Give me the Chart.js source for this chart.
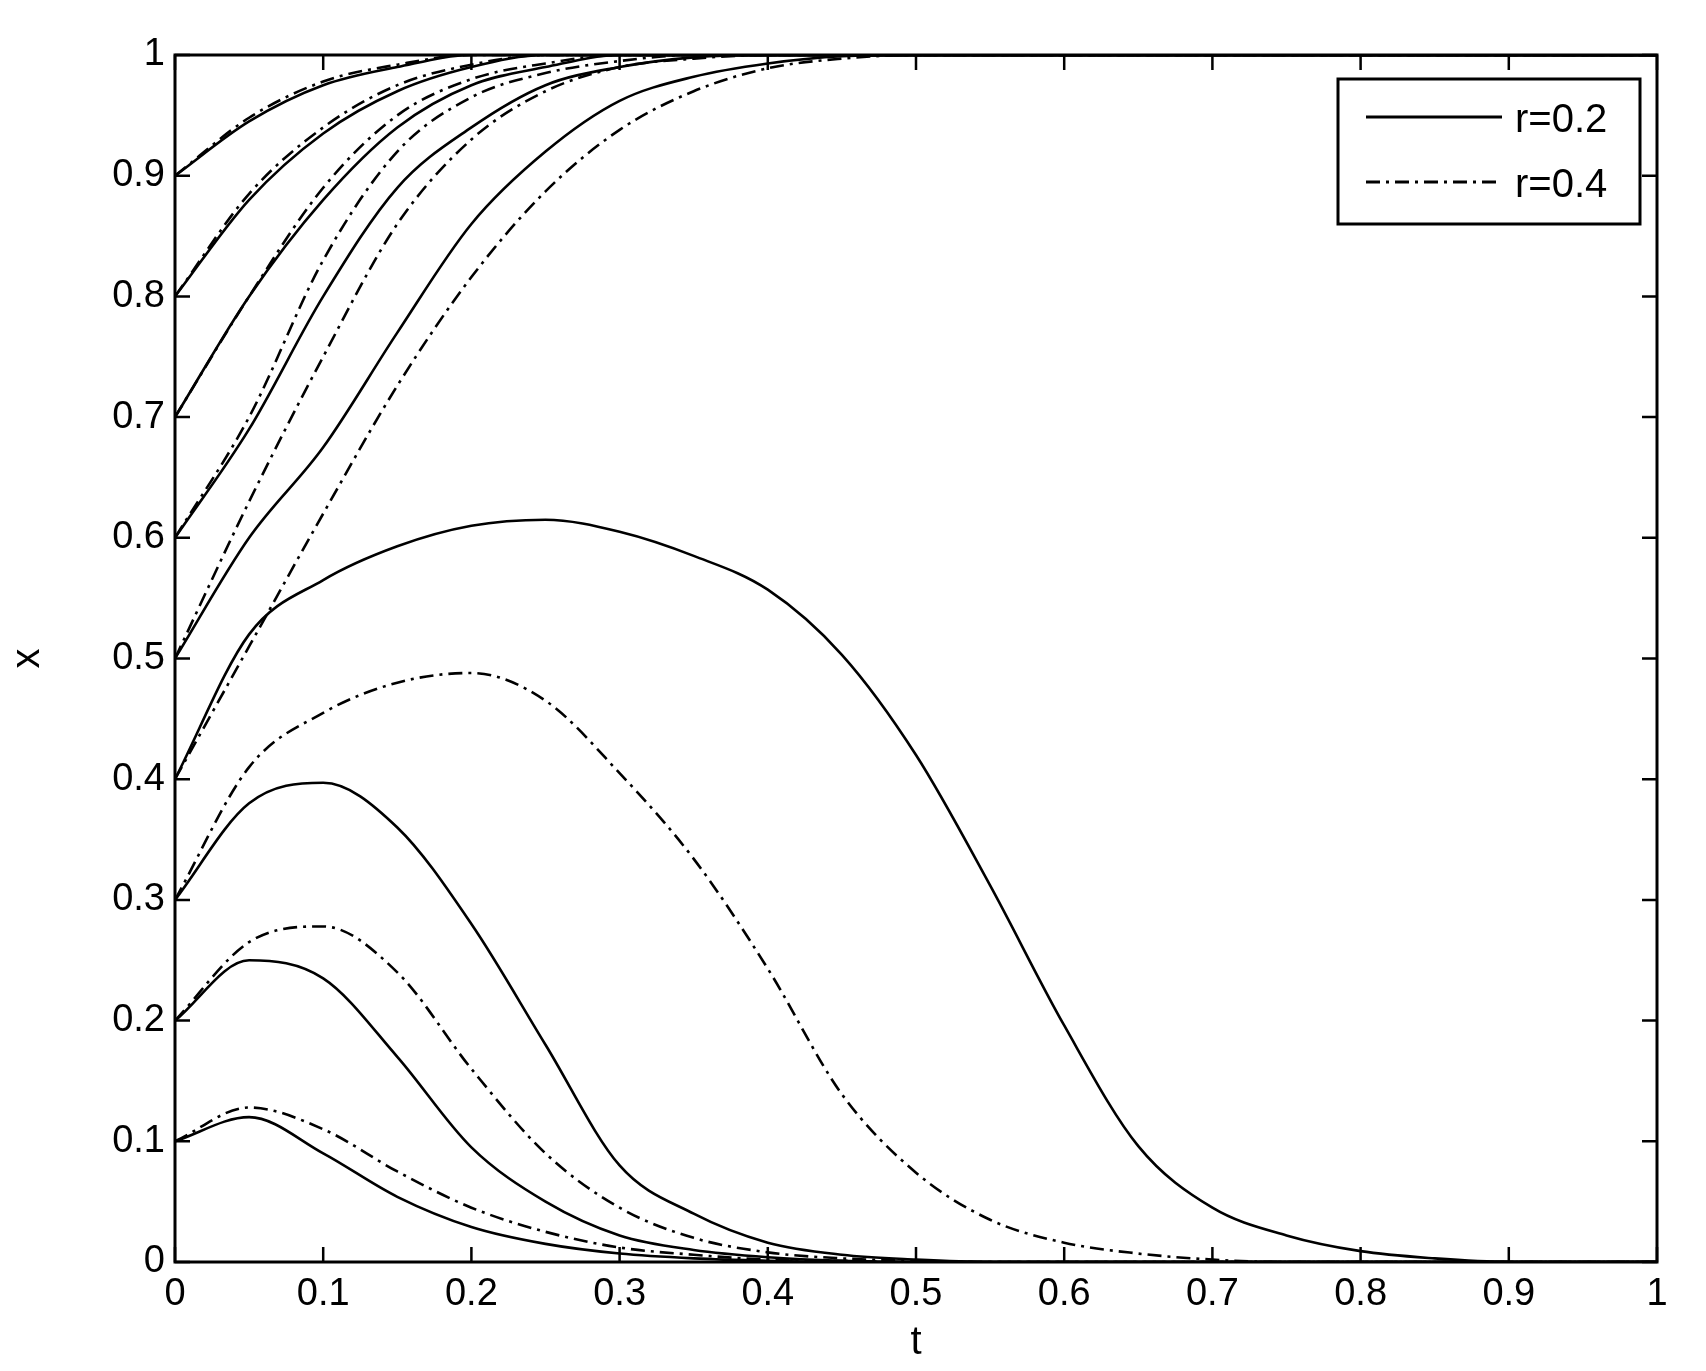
<!DOCTYPE html>
<html><head><meta charset="utf-8">
<script src="https://cdn.jsdelivr.net/npm/chart.js@4"></script>
<style>html,body{margin:0;padding:0;background:#fff}#w{width:1706px;height:1371px}</style>
</head><body><div id="w"><canvas id="c"></canvas></div>
<script>
const T=[0,0.05,0.1,0.15,0.2,0.25,0.3,0.35,0.4,0.45,0.5,0.55,0.6,0.65,0.7,0.75,0.8,0.85,0.9,0.95,1];
const s01=[0.1,0.12,0.09,0.054,0.029,0.015,0.007,0.003,0.001,0,0,0,0,0,0,0,0,0,0,0,0];
const d01=[0.1,0.128,0.11,0.075,0.045,0.025,0.012,0.006,0.002,0.001,0,0,0,0,0,0,0,0,0,0,0];
const s02=[0.2,0.25,0.235,0.17,0.095,0.05,0.022,0.01,0.004,0.001,0,0,0,0,0,0,0,0,0,0,0];
const d02=[0.2,0.265,0.278,0.24,0.16,0.09,0.045,0.02,0.008,0.003,0.001,0,0,0,0,0,0,0,0,0,0];
const s03=[0.3,0.38,0.397,0.36,0.28,0.18,0.08,0.04,0.016,0.006,0.002,0,0,0,0,0,0,0,0,0,0];
const d03=[0.3,0.41,0.455,0.48,0.488,0.465,0.405,0.334,0.243,0.139,0.074,0.035,0.016,0.007,0.002,0,0,0,0,0,0];
const s04=[0.4,0.52,0.565,0.593,0.61,0.615,0.605,0.585,0.557,0.503,0.42,0.312,0.196,0.096,0.045,0.022,0.009,0.003,0,0,0];
const d04=[0.4,0.51,0.62,0.726,0.816,0.887,0.938,0.97,0.989,0.997,1,1,1,1,1,1,1,1,1,1,1];
const s05=[0.5,0.6,0.675,0.77,0.86,0.92,0.962,0.982,0.993,0.999,1,1,1,1,1,1,1,1,1,1,1];
const d05=[0.5,0.63,0.75,0.86,0.93,0.97,0.99,0.997,1,1,1,1,1,1,1,1,1,1,1,1,1];
const s06=[0.6,0.69,0.8,0.89,0.94,0.975,0.99,0.998,1,1,1,1,1,1,1,1,1,1,1,1,1];
const d06=[0.6,0.7,0.83,0.92,0.965,0.985,0.995,1,1,1,1,1,1,1,1,1,1,1,1,1,1];
const s07=[0.7,0.8,0.88,0.94,0.975,0.99,1,1,1,1,1,1,1,1,1,1,1,1,1,1,1];
const d07=[0.7,0.8,0.89,0.95,0.98,0.993,1,1,1,1,1,1,1,1,1,1,1,1,1,1,1];
const s08=[0.8,0.88,0.935,0.97,0.99,1,1,1,1,1,1,1,1,1,1,1,1,1,1,1,1];
const d08=[0.8,0.885,0.94,0.975,0.992,1,1,1,1,1,1,1,1,1,1,1,1,1,1,1,1];
const s09=[0.9,0.945,0.975,0.99,1,1,1,1,1,1,1,1,1,1,1,1,1,1,1,1,1];
const d09=[0.9,0.948,0.978,0.992,1,1,1,1,1,1,1,1,1,1,1,1,1,1,1,1,1];
const TICKS=[0,0.1,0.2,0.3,0.4,0.5,0.6,0.7,0.8,0.9,1];
const legendLabels=['r=0.2','r=0.4'];
const DASH=[14,6,3,6];
const solid=[s01,s02,s03,s04,s05,s06,s07,s08,s09];
const dashed=[d01,d02,d03,d04,d05,d06,d07,d08,d09];
const mk=(arr,dash)=>({data:arr.map((v,i)=>({x:T[i],y:v})),borderColor:'#000',borderWidth:2.6,borderDash:dash,pointRadius:0,fill:false,cubicInterpolationMode:'monotone'});
const datasets=[...solid.map(a=>mk(a,[])),...dashed.map(a=>mk(a,DASH))];
const FONT="'Liberation Sans', Arial, sans-serif";
const frame={id:'frame',afterDraw(ch){const c=ch.ctx,a=ch.chartArea,xs=ch.scales.x,ys=ch.scales.y;
c.save();c.strokeStyle='#000';c.lineWidth=3;c.setLineDash([]);c.strokeRect(a.left,a.top,a.right-a.left,a.bottom-a.top);
c.lineWidth=2.5;const L=15;
TICKS.forEach(v=>{const px=xs.getPixelForValue(v),py=ys.getPixelForValue(v);
c.beginPath();c.moveTo(px,a.bottom);c.lineTo(px,a.bottom-L);c.moveTo(px,a.top);c.lineTo(px,a.top+L);
c.moveTo(a.left,py);c.lineTo(a.left+L,py);c.moveTo(a.right,py);c.lineTo(a.right-L,py);c.stroke();});
const bx=1338,by=79,bw=302,bh=145;c.fillStyle='#fff';c.fillRect(bx,by,bw,bh);c.lineWidth=3;c.strokeRect(bx,by,bw,bh);
c.lineWidth=3;c.font='40px '+FONT;c.fillStyle='#000';c.textBaseline='middle';
[[117,[]],[182,DASH]].forEach((r,i)=>{c.setLineDash(r[1]);c.beginPath();c.moveTo(1366,r[0]);c.lineTo(1502,r[0]);c.stroke();c.setLineDash([]);c.fillText(legendLabels[i],1515,r[0]+4);});
c.restore();}};
new Chart(document.getElementById('c'),{type:'line',data:{datasets},
options:{responsive:true,maintainAspectRatio:false,animation:false,
layout:{padding:{top:55,right:49,left:0,bottom:0}},
plugins:{legend:{display:false},tooltip:{enabled:false}},
scales:{x:{type:'linear',min:0,max:1,afterBuildTicks(s){s.ticks=TICKS.map(v=>({value:v}));},
afterFit(s){s.height=1371-1262;},
grid:{display:false,drawTicks:false},border:{display:false},
ticks:{color:'#000',font:{size:38,family:FONT},padding:10,maxRotation:0,callback:v=>String(v)},
title:{display:true,text:'t',color:'#000',font:{size:40,family:FONT},padding:{top:0}}},
y:{min:0,max:1,afterBuildTicks(s){s.ticks=TICKS.map(v=>({value:v}));},
afterFit(s){s.width=175;},
grid:{display:false,drawTicks:false},border:{display:false},
ticks:{color:'#000',font:{size:38,family:FONT},padding:10,callback:v=>String(v)},
title:{display:true,text:'x',color:'#000',font:{size:40,family:FONT}}}}},
plugins:[frame]});
</script></body></html>
